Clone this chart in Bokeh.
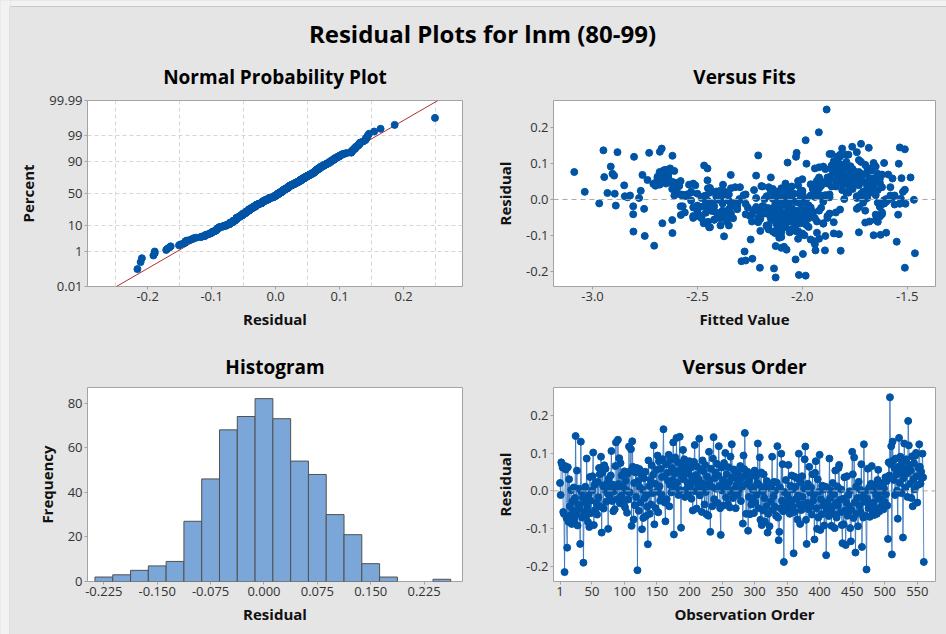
from statistics import NormalDist
import numpy as np
from bokeh.plotting import figure
from bokeh.layouts import row, column
from bokeh.models import Range1d, FixedTicker, PrintfTickFormatter, Span, Label, BoxAnnotation, ColumnDataSource
from bokeh.embed import file_html
from bokeh.resources import INLINE

# ---------------- data ----------------
residuals = [
    0.021, -0.011, 0.076, 0.071, 0.062, -0.056, -0.061, -0.216, 0.066, 0.057,
    -0.072, -0.151, 0.063, -0.082, 0.031, -0.041, -0.066, 0.002, -0.088, -0.028,
    -0.052, 0.009, -0.077, -0.019, 0.146, -0.062, 0.054, -0.092, -0.036, 0.006,
    -0.046, -0.141, 0.131, -0.002, -0.071, -0.018, -0.191, -0.057, -0.031, 0.011,
    -0.066, 0.086, -0.043, -0.083, -0.012, -0.096, 0.037, -0.026, -0.059, 0.001,
    0.039, 0.102, -0.091, 0.016, -0.051, 0.022, -0.032, -0.063, 0.024, -0.017,
    0.061, 0.044, -0.042, 0.091, -0.111, 0.048, 0.014, -0.047, 0.068, 0.004,
    0.059, -0.029, 0.019, -0.006, -0.101, 0.032, -0.014, 0.012, 0.041, 0.106,
    -0.027, 0.017, -0.054, -0.001, -0.049, 0.066, 0.129, 0.007, -0.022, 0.136,
    0.018, 0.087, -0.033, 0.074, -0.012, 0.041, -0.021, 0.011, -0.037, 0.052,
    -0.044, 0.027, 0.001, -0.058, 0.046, -0.023, 0.118, -0.004, 0.053, 0.111,
    -0.093, 0.132, 0.064, -0.076, 0.021, -0.038, 0.049, -0.016, 0.061, -0.211,
    0.026, -0.053, 0.058, 0.009, -0.031, 0.044, -0.102, 0.003, -0.072, 0.034,
    -0.019, 0.051, -0.067, -0.011, -0.042, -0.142, 0.081, 0.013, -0.061, 0.029,
    -0.036, 0.068, -0.006, 0.043, 0.121, -0.089, 0.019, -0.046, 0.056, -0.002,
    0.094, -0.057, 0.079, 0.012, -0.026, 0.059, -0.009, 0.037, 0.084, 0.164,
    0.039, -0.031, -0.081, 0.071, -0.022, 0.048, 0.026, 0.096, -0.041, 0.016,
    0.082, -0.004, 0.061, 0.028, 0.129, -0.116, 0.046, 0.089, 0.008, 0.141,
    0.022, 0.076, -0.011, 0.054, 0.144, 0.002, -0.098, 0.039, 0.066, 0.109,
    0.031, 0.084, -0.016, 0.051, 0.004, 0.069, 0.021, -0.007, 0.046, 0.079,
    0.009, 0.062, -0.021, 0.036, -0.052, 0.024, 0.077, 0.122, -0.001, 0.042,
    -0.047, 0.064, 0.014, 0.031, 0.139, -0.012, 0.056, 0.006, -0.056, 0.081,
    0.019, 0.052, -0.036, 0.069, -0.003, -0.062, 0.038, 0.016, -0.066, 0.104,
    0.026, -0.109, 0.059, 0.011, -0.041, 0.086, 0.143, -0.022, 0.034, 0.049,
    0.006, 0.072, -0.032, 0.041, 0.119, 0.013, -0.046, -0.117, 0.062, 0.001,
    0.029, -0.039, 0.074, 0.021, 0.101, -0.017, 0.044, 0.009, -0.034, 0.063,
    0.024, -0.044, 0.091, -0.002, 0.124, 0.036, -0.019, 0.057, 0.004, 0.039,
    -0.046, 0.014, 0.032, -0.011, 0.048, 0.002, 0.018, 0.066, -0.027, 0.034,
    0.011, -0.087, 0.094, 0.058, 0.154, 0.041, -0.061, 0.019, 0.051, -0.106,
    -0.016, 0.029, -0.062, 0.012, -0.036, 0.046, -0.021, 0.003, -0.059, 0.054,
    -0.031, 0.039, -0.011, 0.021, 0.126, -0.046, 0.016, 0.089, -0.077, 0.049,
    -0.091, -0.001, -0.052, 0.044, -0.019, -0.082, 0.011, -0.041, 0.026, -0.111,
    -0.061, 0.014, -0.094, 0.019, -0.029, 0.006, 0.091, -0.051, -0.014, 0.024,
    -0.042, 0.001, -0.066, 0.022, 0.119, -0.071, -0.131, -0.109, 0.009, -0.046,
    0.099, -0.026, 0.071, -0.054, -0.189, -0.003, -0.034, 0.029, -0.052, -0.009,
    -0.044, 0.069, -0.021, -0.061, 0.014, -0.029, 0.041, 0.004, -0.042, -0.166,
    0.038, -0.056, 0.011, -0.021, 0.034, -0.076, -0.012, 0.099, -0.036, -0.088,
    0.023, -0.051, 0.039, -0.016, -0.037, 0.006, 0.084, 0.118, -0.077, -0.141,
    -0.032, 0.019, -0.049, 0.064, -0.004, -0.041, 0.009, -0.063, 0.044, -0.026,
    -0.011, -0.129, 0.048, 0.079, -0.046, -0.101, 0.031, -0.071, -0.002, 0.096,
    -0.104, -0.022, -0.062, 0.014, -0.039, 0.004, -0.092, -0.031, 0.011, -0.171,
    -0.051, 0.006, -0.036, -0.067, 0.086, -0.019, 0.001, -0.093, -0.044, 0.021,
    -0.061, -0.009, -0.099, 0.054, -0.032, -0.071, 0.012, -0.039, 0.061, 0.069,
    -0.024, -0.057, 0.004, -0.091, -0.139, -0.021, -0.089, 0.036, -0.052, -0.144,
    -0.031, 0.039, -0.066, -0.011, -0.041, -0.001, -0.099, -0.134, -0.051, 0.104,
    0.044, -0.072, 0.089, -0.031, -0.164, 0.011, -0.061, -0.019, -0.094, 0.024,
    -0.039, 0.004, -0.056, 0.071, -0.149, -0.016, -0.071, 0.124, -0.029, -0.001,
    -0.066, -0.209, -0.021, 0.059, -0.046, 0.009, -0.069, -0.036, 0.019, 0.066,
    -0.052, 0.002, -0.031, -0.064, 0.016, -0.047, -0.011, -0.061, 0.029, 0.056,
    -0.021, -0.054, 0.009, -0.042, -0.002, -0.024, 0.021, -0.049, 0.006, -0.029,
    0.036, -0.009, 0.026, -0.039, -0.128, 0.076, 0.041, 0.249, 0.071, 0.119,
    -0.169, 0.131, 0.081, 0.029, 0.061, -0.011, 0.086, 0.044, 0.001, -0.074,
    0.064, 0.141, 0.021, 0.091, 0.049, -0.006, 0.076, -0.124, 0.034, 0.126,
    0.059, 0.009, 0.084, 0.046, -0.016, 0.186, 0.121, 0.069, 0.019, 0.054,
    -0.019, 0.092, -0.041, 0.031, 0.074, 0.004, 0.094, 0.101, 0.039, -0.031,
    0.016, 0.061, 0.124, 0.064, 0.019, 0.051, 0.034, 0.099, 0.036, -0.189,
]

fitted = [
    -3.037, -2.968, -3.087, -2.905, -2.944, -2.42, -2.08, -2.127, -2.66, -1.86,
    -2.35, -1.997, -1.75, -2.12, -1.92, -2.806, -2.47, -2.05, -2.03, -1.82,
    -2.39, -2.846, -2.444, -2.806, -1.762, -2.10, -2.738, -1.60, -2.56, -2.833,
    -2.52, -1.892, -2.881, -2.09, -1.98, -2.33, -2.135, -2.62, -1.70, -2.821,
    -2.667, -2.452, -2.579, -2.16, -1.535, -1.825, -2.587, -2.754, -2.03, -2.30,
    -2.849, -2.07, -2.06, -2.894, -1.88, -2.41, -2.50, -2.21, -2.770, -2.889,
    -1.484, -2.65, -1.543, -2.913, -2.246, -1.81, -2.37, -2.01, -2.762, -2.778,
    -1.527, -2.13, -1.93, -2.06, -2.751, -1.77, -2.44, -2.28, -2.68, -1.85,
    -2.31, -2.00, -2.14, -1.468, -2.40, -2.897, -2.730, -1.94, -2.26, -2.948,
    -2.929, -1.69, -2.07, -2.64, -1.508, -2.378, -2.11, -1.96, -2.46, -1.78,
    -2.49, -1.511, -2.18, -2.05, -2.60, -1.91, -2.802, -2.35, -2.452, -1.83,
    -2.619, -2.679, -1.72, -1.97, -2.53, -2.03, -2.67, -2.34, -1.87, -1.984,
    -2.23, -2.15, -1.63, -2.47, -1.98, -1.80, -2.373, -2.08, -2.39, -2.297,
    -2.57, -1.74, -2.12, -2.43, -1.95, -1.817, -1.67, -2.01, -2.36, -2.62,
    -2.10, -2.341, -1.90, -2.71, -2.619, -2.805, -2.44, -2.05, -1.79, -2.30,
    -2.468, -2.09, -1.84, -2.55, -2.17, -2.69, -1.99, -2.195, -1.76, -1.984,
    -2.587, -2.38, -2.04, -1.82, -2.52, -2.63, -1.93, -1.70, -2.27, -2.12,
    -2.65, -2.46, -1.88, -2.06, -2.027, -1.944, -2.70, -1.81, -2.41, -2.67,
    -1.94, -2.68, -2.33, -1.78, -1.535, -2.14, -1.627, -2.51, -1.86, -1.73,
    -2.45, -1.89, -2.07, -2.58, -1.99, -1.77, -2.37, -2.03, -1.66, -2.61,
    -1.92, -2.64, -2.19, -1.84, -2.48, -2.09, -1.75, -2.21, -2.40, -1.96,
    -2.11, -1.80, -2.55, -1.69, -1.511, -2.27, -2.00, -1.87, -2.42, -2.66,
    -2.36, -1.93, -2.05, -1.72, -2.53, -1.64, -2.70, -2.13, -1.90, -1.79,
    -2.60, -2.02, -1.83, -2.46, -2.16, -2.63, -1.683, -1.97, -2.32, -1.71,
    -2.08, -1.85, -2.43, -1.95, -1.82, -2.57, -2.06, -1.55, -2.65, -1.90,
    -1.76, -2.34, -1.81, -2.01, -1.61, -2.50, -1.88, -2.17, -1.99, -2.69,
    -2.39, -1.96, -1.65, -2.10, -1.78, -2.05, -2.47, -1.92, -1.74, -2.59,
    -2.04, -1.87, -2.44, -2.12, -1.83, -2.00, -1.68, -2.64, -2.35, -1.93,
    -2.07, -2.20, -1.86, -1.57, -1.72, -2.54, -2.09, -1.79, -2.02, -2.11,
    -2.31, -1.95, -2.45, -1.89, -2.06, -1.76, -2.22, -1.98, -2.13, -1.84,
    -2.03, -1.73, -2.38, -2.15, -1.87, -2.50, -2.04, -1.79, -2.08, -2.62,
    -2.10, -2.01, -1.94, -1.81, -2.42, -2.05, -1.91, -2.14, -1.64, -1.96,
    -2.07, -2.27, -1.85, -2.53, -1.98, -2.11, -1.90, -2.36, -1.56, -2.00,
    -2.09, -1.80, -2.03, -2.40, -1.83, -2.12, -2.087, -1.92, -2.06, -1.88,
    -1.98, -2.44, -1.77, -2.05, -1.511, -2.13, -1.95, -2.08, -2.33, -1.71,
    -2.02, -1.59, -2.49, -1.93, -2.58, -2.00, -1.66, -2.39, -2.04, -2.032,
    -1.91, -2.07, -2.61, -1.97, -1.62, -2.11, -2.43, -1.54, -1.84, -2.02,
    -2.00, -2.52, -1.78, -2.09, -2.37, -1.57, -1.86, -2.03, -2.44, -1.937,
    -2.13, -1.68, -2.04, -1.79, -2.45, -1.99, -2.56, -1.85, -2.52, -1.74,
    -2.01, -2.127, -1.88, -2.63, -2.06, -1.89, -2.34, -2.03, -1.60, -1.81,
    -2.10, -1.96, -2.00, -2.35, -1.87, -2.48, -1.93, -2.12, -1.58, -2.29,
    -1.98, -2.08, -2.41, -1.90, -1.94, -2.58, -1.60, -2.13, -2.01, -1.52,
    -2.06, -2.32, -1.99, -1.84, -2.02, -2.09, -1.65, -2.38, -1.80, -1.62,
    -2.05, -1.65, -2.22, -1.73, -2.075, -1.63, -2.14, -2.19, -1.97, -2.275,
    -2.18, -1.69, -2.01, -1.61, -2.24, -1.99, -1.66, -2.10, -2.21, -1.72,
    -1.75, -2.17, -1.92, -2.23, -2.238, -1.56, -1.68, -2.19, -2.00, -1.67,
    -2.20, -1.71, -2.09, -1.64, -1.463, -1.97, -2.16, -1.79, -2.23, -1.59,
    -1.99, -2.016, -2.18, -1.66, -2.25, -1.74, -2.12, -1.62, -1.78, -2.22,
    -2.06, -1.53, -2.19, -1.70, -2.50, -1.63, -2.10, -2.24, -1.93, -1.68,
    -1.73, -2.20, -2.57, -1.65, -1.61, -2.16, -1.71, -2.11, -1.58, -2.21,
    -1.86, -1.64, -1.81, -2.18, -2.706, -1.69, -1.91, -1.884, -1.72, -1.83,
    -2.27, -1.74, -1.67, -2.14, -1.92, -1.61, -1.79, -2.08, -1.70, -2.17,
    -1.85, -1.81, -2.12, -1.66, -1.89, -1.60, -1.73, -1.94, -2.16, -1.86,
    -1.68, -2.09, -1.80, -1.63, -2.13, -1.921, -1.82, -1.71, -2.06, -1.65,
    -2.19, -1.77, -1.62, -2.10, -1.75, -1.69, -1.84, -1.66, -2.02, -1.92,
    -1.72, -2.15, -1.82, -1.64, -2.07, -1.74, -1.58, -1.85, -1.69, -2.202,
]

hist_mids = [-0.225, -0.200, -0.175, -0.150, -0.125, -0.100, -0.075, -0.050, -0.025, 0.000,
             0.025, 0.050, 0.075, 0.100, 0.125, 0.150, 0.175, 0.200, 0.225, 0.250]
hist_counts = [2, 3, 5, 7, 9, 27, 46, 68, 74, 82, 73, 54, 48, 30, 21, 8, 2, 0, 0, 1]

pp_tick_pcts = [0.01, 1, 10, 50, 90, 99, 99.99]
pp_x_ticks = [-0.2, -0.1, 0.0, 0.1, 0.2]
fits_x_ticks = [-3.0, -2.5, -2.0, -1.5]
resid_ticks = [-0.2, -0.1, 0.0, 0.1, 0.2]
hist_x_ticks = [-0.225, -0.150, -0.075, 0.000, 0.075, 0.150, 0.225]
hist_y_ticks = [0, 20, 40, 60, 80]
order_ticks = [1, 50, 100, 150, 200, 250, 300, 350, 400, 450, 500, 550]

# ---------------- styling ----------------
FONT = "Open Sans"
BG = "#e5e5e5"
BLUE = "#0054a6"
FRAME = "#a3a3a3"


def style(p, title, xlabel, ylabel, standoff):
    p.title.text = title
    p.title.align = "center"
    p.title.text_font = FONT
    p.title.text_font_size = "19px"
    p.title.text_font_style = "bold"
    p.title.text_color = "#000000"
    p.title.standoff = standoff
    p.background_fill_color = "white"
    p.border_fill_color = BG
    p.outline_line_color = FRAME
    p.outline_line_width = 1
    p.xgrid.visible = False
    p.ygrid.visible = False
    p.xaxis.axis_label = xlabel
    p.yaxis.axis_label = ylabel
    for ax in (p.xaxis[0], p.yaxis[0]):
        ax.axis_line_color = None
        ax.major_tick_line_color = FRAME
        ax.major_tick_in = 0
        ax.major_tick_out = 3
        ax.minor_tick_line_color = None
        ax.major_label_text_font = FONT
        ax.major_label_text_font_size = "13px"
        ax.major_label_text_color = "#333333"
        ax.axis_label_text_font = FONT
        ax.axis_label_text_font_size = "15px"
        ax.axis_label_text_font_style = "bold"
        ax.axis_label_text_color = "#111111"
        ax.major_label_standoff = 2
    p.xaxis[0].axis_label_standoff = 5
    p.yaxis[0].axis_label_standoff = 8


def make(width, height, xr, yr, left, top, bottom):
    return figure(width=width, height=height, x_range=Range1d(*xr), y_range=Range1d(*yr),
                  output_backend="svg", toolbar_location=None,
                  min_border_left=left, min_border_right=11,
                  min_border_top=top, min_border_bottom=bottom)


n = len(residuals)
res = np.array(residuals, dtype=float)

# ---- Normal probability plot ----
nd = NormalDist()
zlo, zhi = nd.inv_cdf(0.0001), nd.inv_cdf(0.9999)
p1 = make(463, 290, (-0.294, 0.292), (zlo, zhi), 77, 49, 54)
style(p1, "Normal Probability Plot", "Residual", "Percent", 22)
r_sorted = np.sort(res)
ppos = (np.arange(1, n + 1) - 0.3) / (n + 0.4)
zvals = [nd.inv_cdf(v) for v in ppos]
mu, sd = float(res.mean()), float(res.std(ddof=1))
pp_tick_z = [nd.inv_cdf(t / 100.0) for t in pp_tick_pcts]
p1.yaxis.ticker = FixedTicker(ticks=pp_tick_z)
p1.yaxis.major_label_overrides = {z: f"{t:g}" for z, t in zip(pp_tick_z, pp_tick_pcts)}
p1.xaxis.ticker = FixedTicker(ticks=pp_x_ticks)
p1.xaxis.formatter = PrintfTickFormatter(format="%.1f")
p1.ygrid.visible = True
p1.ygrid.ticker = FixedTicker(ticks=pp_tick_z[1:-1])
p1.xgrid.visible = True
p1.xgrid.ticker = FixedTicker(ticks=[t + 0.05 for t in [-0.3] + pp_x_ticks])
for g in (p1.xgrid[0], p1.ygrid[0]):
    g.grid_line_color = "#d6d6d6"
    g.grid_line_dash = "4 3"
p1.line([mu + sd * zlo, mu + sd * zhi], [zlo, zhi], line_color="#b03030", line_width=1)
p1.scatter(r_sorted, zvals, size=7, color=BLUE, marker="circle")

# ---- Versus fits ----
p2 = make(473, 290, (-3.186, -1.365), (-0.241, 0.274), 80, 49, 54)
style(p2, "Versus Fits", "Fitted Value", "Residual", 22)
p2.xaxis.ticker = FixedTicker(ticks=fits_x_ticks)
p2.xaxis.formatter = PrintfTickFormatter(format="%.1f")
p2.yaxis.ticker = FixedTicker(ticks=resid_ticks)
p2.yaxis.formatter = PrintfTickFormatter(format="%.1f")
p2.add_layout(Span(location=0, dimension="width", line_color="#a8a8a8", line_dash="5 4", line_width=1))
p2.scatter(fitted, residuals, size=7, color=BLUE, marker="circle")

# ---- Histogram ----
p3 = make(463, 294, (-0.248, 0.279), (0, 87), 77, 47, 53)
style(p3, "Histogram", "Residual", "Frequency", 16)
p3.xaxis.ticker = FixedTicker(ticks=hist_x_ticks)
p3.xaxis.formatter = PrintfTickFormatter(format="%.3f")
p3.yaxis.ticker = FixedTicker(ticks=hist_y_ticks)
hsrc = ColumnDataSource(dict(
    x=[m for m, c in zip(hist_mids, hist_counts) if c > 0],
    top=[c for c in hist_counts if c > 0]))
p3.vbar(x="x", top="top", bottom=0, width=0.025, source=hsrc,
        fill_color="#7ba6d8", line_color="#505050", line_width=1)

# ---- Versus order ----
p4 = make(473, 294, (-9, 578), (-0.241, 0.275), 80, 47, 53)
style(p4, "Versus Order", "Observation Order", "Residual", 16)
p4.xaxis.ticker = FixedTicker(ticks=order_ticks)
p4.yaxis.ticker = FixedTicker(ticks=resid_ticks)
p4.yaxis.formatter = PrintfTickFormatter(format="%.1f")
p4.add_layout(Span(location=0, dimension="width", line_color="#a8a8a8", line_dash="5 4", line_width=1))
order = np.arange(1, n + 1)
p4.line(order, res, line_color="#2f6fb8", line_width=1, line_alpha=0.8)
p4.scatter(order, res, size=7, color=BLUE, marker="circle")

# ---- Main title strip ----
top = figure(width=936, height=50, x_range=Range1d(0, 936), y_range=Range1d(50, 0),
             output_backend="svg", toolbar_location=None,
             x_axis_location=None, y_axis_location=None, min_border=0)
top.background_fill_color = BG
top.border_fill_color = BG
top.outline_line_color = None
top.xgrid.visible = False
top.ygrid.visible = False
top.add_layout(BoxAnnotation(left=0, right=936, top=0, bottom=6, fill_color="#f2f2f2",
                             fill_alpha=1, line_color=None))
top.add_layout(Span(location=6, dimension="width", line_color="#c8c8c8", line_width=1))
top.add_layout(Label(x=472, y=33, text="Residual Plots for lnm (80-99)", text_align="center",
                     text_baseline="middle", text_font=FONT, text_font_size="24px",
                     text_font_style="bold", text_color="#000000"))

# ---- Left edge strip ----
strip = figure(width=10, height=634, x_range=Range1d(0, 10), y_range=Range1d(634, 0),
               output_backend="svg", toolbar_location=None,
               x_axis_location=None, y_axis_location=None, min_border=0)
strip.background_fill_color = "#f2f2f2"
strip.border_fill_color = "#f2f2f2"
strip.outline_line_color = None
strip.xgrid.visible = False
strip.ygrid.visible = False
strip.add_layout(BoxAnnotation(left=9, right=10, top=6, bottom=634, fill_color="#c8c8c8",
                               fill_alpha=1, line_color=None))

bgstyle = {"background-color": BG}
layout = row(strip,
             column(top,
                    row(p1, p2, styles=bgstyle),
                    row(p3, p4, styles=bgstyle),
                    styles=bgstyle),
             styles=bgstyle)

with open("out.html", "w") as f:
    f.write(file_html(layout, INLINE))
